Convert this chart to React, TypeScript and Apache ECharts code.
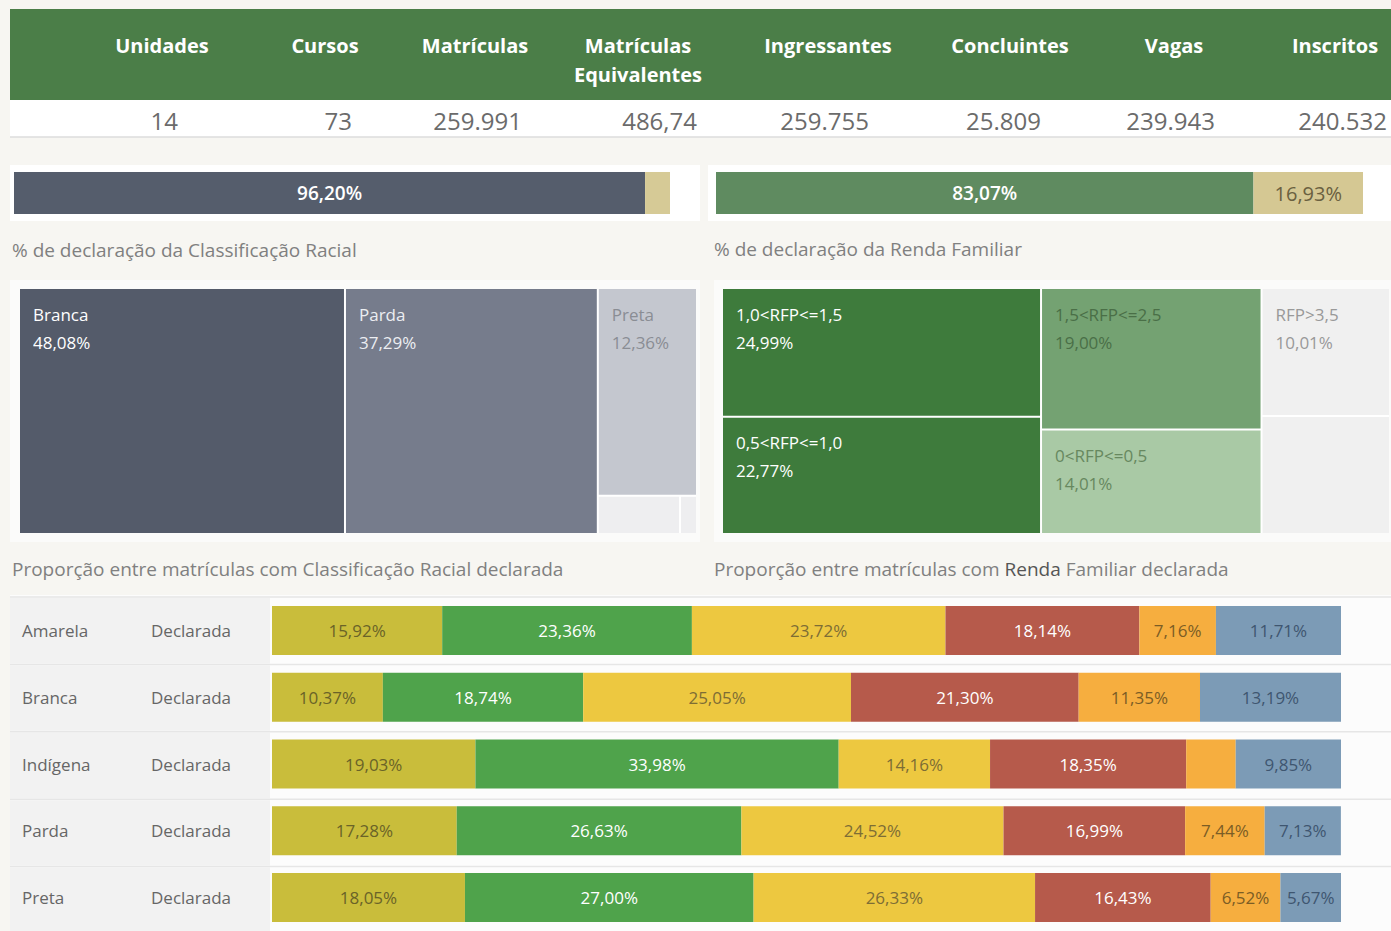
import React, { useEffect, useRef } from 'react';
import * as echarts from 'echarts';

// ---------- DATA ----------
const headerLabels = ['Unidades', 'Cursos', 'Matrículas', 'Matrículas\nEquivalentes', 'Ingressantes', 'Concluintes', 'Vagas', 'Inscritos'];
const headerValues = ['14', '73', '259.991', '486,74', '259.755', '25.809', '239.943', '240.532'];

const declCategories = ['Declarada', 'Não declarada'];
const racialDeclared = [96.2, 3.8];
const rendaDeclared = [83.07, 16.93];

const racialNames = ['Branca', 'Parda', 'Preta', 'Amarela', 'Indígena'];
const racialShares = [48.08, 37.29, 12.36, 1.88, 0.39];

const rendaNames = ['1,0<RFP<=1,5', '0,5<RFP<=1,0', '1,5<RFP<=2,5', '0<RFP<=0,5', 'RFP>3,5', '2,5<RFP<=3,5'];
const rendaShares = [24.99, 22.77, 19.0, 14.01, 10.01, 9.22];

const rowRaces = ['Amarela', 'Branca', 'Indígena', 'Parda', 'Preta'];
const rowStatus = 'Declarada';
const bandNames = ['0<RFP<=0,5', '0,5<RFP<=1,0', '1,0<RFP<=1,5', '1,5<RFP<=2,5', '2,5<RFP<=3,5', 'RFP>3,5'];
const band1 = [15.92, 10.37, 19.03, 17.28, 18.05];
const band2 = [23.36, 18.74, 33.98, 26.63, 27.0];
const band3 = [23.72, 25.05, 14.16, 24.52, 26.33];
const band4 = [18.14, 21.3, 18.35, 16.99, 16.43];
const band5 = [7.16, 11.35, 4.63, 7.44, 6.52];
const band6 = [11.71, 13.19, 9.85, 7.13, 5.67];
const bandValues = [band1, band2, band3, band4, band5, band6];

// ---------- STYLE ----------
const FONT = "'Open Sans', 'Noto Sans', sans-serif";
const bandColors = ['#c9bd3b', '#4fa34b', '#edc840', '#b65a4b', '#f6ae3f', '#7c9bb6'];
const bandLabelColors = ['#6a6328', '#ffffff', '#7d6d35', '#ffffff', '#7b5d25', '#3f5670'];
const racialColors = ['#545b6a', '#767c8c', '#c4c7cf', '#eeeef0', '#eeeef0'];
const racialLabelColors = ['#ffffff', '#eceef2', '#8a8d94', '#999', '#999'];
const rendaColors = ['#3e7b3c', '#3e7b3c', '#74a272', '#a9c9a5', '#f0f0f0', '#f0f0f0'];
const rendaLabelColors = ['#ffffff', '#ffffff', '#4a6f47', '#67885f', '#999999', '#999999'];

const fmt = (v: number) => v.toFixed(2).replace('.', ',') + '%';

const headerCenters = [162, 325, 475, 638, 828, 1010, 1174, 1335];
const valueRights = [178, 352, 522, 697, 869, 1041, 1215, 1387];

const bottomTop = 597;
const bottomHeight = 337;

export default function App() {
  const ref = useRef<HTMLDivElement>(null);
  useEffect(() => {
    if (!ref.current) return;
    const chart = echarts.init(ref.current, null, { renderer: 'svg' });

    const graphics: any[] = [];
    // header band
    graphics.push({ type: 'rect', shape: { x: 10, y: 9, width: 1381, height: 91 }, style: { fill: '#4b7e48' }, z: 0 });
    graphics.push({ type: 'rect', shape: { x: 10, y: 100, width: 1381, height: 37 }, style: { fill: '#ffffff' }, z: 0 });
    graphics.push({ type: 'line', shape: { x1: 10, y1: 137, x2: 1391, y2: 137 }, style: { stroke: '#dcdcdc', lineWidth: 1.5 }, z: 1 });
    headerLabels.forEach((t, i) => {
      graphics.push({
        type: 'text', x: headerCenters[i], y: 31, z: 2,
        style: { text: t, fill: '#ffffff', font: `bold 20px ${FONT}`, align: 'center', verticalAlign: 'top', lineHeight: 29 },
      });
      graphics.push({
        type: 'text', x: valueRights[i], y: 120, z: 2,
        style: { text: headerValues[i], fill: '#6b6b6b', font: `24px ${FONT}`, align: 'right', verticalAlign: 'middle' },
      });
    });
    // white panels behind top bars
    graphics.push({ type: 'rect', shape: { x: 10, y: 165, width: 690, height: 56 }, style: { fill: '#ffffff' }, z: 0 });
    graphics.push({ type: 'rect', shape: { x: 708, y: 165, width: 683, height: 56 }, style: { fill: '#ffffff' }, z: 0 });
    // subtitles
    const sub = (x: number, y: number, text: string) => ({
      type: 'text', x, y, z: 2,
      style: { text, fill: '#808080', font: `19px ${FONT}`, align: 'left', verticalAlign: 'middle' },
    });
    graphics.push(sub(12, 250, '% de declaração da Classificação Racial'));
    graphics.push(sub(714, 249, '% de declaração da Renda Familiar'));
    graphics.push(sub(12, 569, 'Proporção entre matrículas com Classificação Racial declarada'));
    graphics.push({
      type: 'text', x: 714, y: 569, z: 2,
      style: {
        text: '{n|Proporção entre matrículas com }{b|Renda}{n| Familiar declarada}',
        align: 'left', verticalAlign: 'middle',
        rich: {
          n: { fill: '#808080', font: `19px ${FONT}` },
          b: { fill: '#555555', font: `19px ${FONT}` },
        },
      },
    });
    // treemap panels
    graphics.push({ type: 'rect', shape: { x: 10, y: 280, width: 690, height: 262 }, style: { fill: '#fbfbfa' }, z: 0 });
    graphics.push({ type: 'rect', shape: { x: 714, y: 280, width: 677, height: 262 }, style: { fill: '#fbfbfa' }, z: 0 });
    // bottom rows
    const band = bottomHeight / rowRaces.length;
    graphics.push({ type: 'rect', shape: { x: 10, y: bottomTop - 2, width: 1381, height: 931 - bottomTop + 2 }, style: { fill: '#fcfcfc' }, z: 0 });
    rowRaces.forEach((_, i) => {
      const y0 = bottomTop + i * band;
      graphics.push({ type: 'rect', shape: { x: 10, y: y0 + 1, width: 260, height: band - 2 }, style: { fill: '#f2f2f2' }, z: 0 });
      graphics.push({ type: 'line', shape: { x1: 10, y1: y0, x2: 1391, y2: y0 }, style: { stroke: '#e6e6e6', lineWidth: 1.5 }, z: 0 });
    });

    const barLabel = (color: string) => ({
      show: true, position: 'inside', color, fontFamily: FONT, fontSize: 17,
      formatter: (p: any) => fmt(p.value),
    });

    const treemapSeries = (left: number, top: number, width: number, names: string[], values: number[], colors: string[], labelColors: string[], hideBelow: number) => ({
      type: 'treemap',
      left, top, width, height: 244,
      roam: false, nodeClick: false,
      breadcrumb: { show: false },
      squareRatio: 0.5 * (1 + Math.sqrt(5)),
      levels: [{ itemStyle: { borderWidth: 0, gapWidth: 2, borderColor: '#ffffff' } }],
      label: {
        show: true, position: 'insideTopLeft', fontFamily: FONT, fontSize: 17, lineHeight: 28,
        padding: [11, 0, 0, 13],
        formatter: (p: any) => p.name + '\n' + fmt(p.value),
      },
      emphasis: { disabled: true },
      data: names.map((n, i) => ({
        name: n, value: values[i],
        itemStyle: { color: colors[i] },
        label: { show: values[i] >= hideBelow, color: labelColors[i] },
      })),
    });

    const option: any = {
      animation: false,
      backgroundColor: 'transparent',
      grid: [
        { left: 14, top: 172, width: 656, height: 42 },
        { left: 716, top: 172, width: 647, height: 42 },
        { left: 272, top: bottomTop, width: 1069, height: bottomHeight },
      ],
      xAxis: [
        { type: 'value', gridIndex: 0, min: 0, max: 100, show: false },
        { type: 'value', gridIndex: 1, min: 0, max: 100, show: false },
        { type: 'value', gridIndex: 2, min: 0, max: 100, show: false },
      ],
      yAxis: [
        { type: 'category', gridIndex: 0, data: ['Classificação Racial'], show: false },
        { type: 'category', gridIndex: 1, data: ['Renda Familiar'], show: false },
        {
          type: 'category', gridIndex: 2, data: rowRaces, inverse: true,
          axisLine: { show: false }, axisTick: { show: false }, splitLine: { show: false },
          axisLabel: {
            align: 'left', margin: 250,
            formatter: (v: string) => `{a|${v}}{b|${rowStatus}}`,
            rich: {
              a: { width: 129, color: '#666666', fontFamily: FONT, fontSize: 17 },
              b: { color: '#666666', fontFamily: FONT, fontSize: 17 },
            },
          },
        },
      ],
      graphic: { elements: graphics },
      series: [
        {
          type: 'bar', name: declCategories[0], stack: 'r', xAxisIndex: 0, yAxisIndex: 0, barWidth: 42,
          data: [racialDeclared[0]], itemStyle: { color: '#555d6c' },
          label: { show: true, position: 'inside', color: '#ffffff', fontFamily: FONT, fontSize: 19, fontWeight: 600, formatter: (p: any) => fmt(p.value) },
        },
        {
          type: 'bar', name: declCategories[1], stack: 'r', xAxisIndex: 0, yAxisIndex: 0, barWidth: 42,
          data: [racialDeclared[1]], itemStyle: { color: '#d6ca96' }, label: { show: false },
        },
        {
          type: 'bar', name: declCategories[0], stack: 'f', xAxisIndex: 1, yAxisIndex: 1, barWidth: 42,
          data: [rendaDeclared[0]], itemStyle: { color: '#5f8b60' },
          label: { show: true, position: 'inside', color: '#ffffff', fontFamily: FONT, fontSize: 19, fontWeight: 600, formatter: (p: any) => fmt(p.value) },
        },
        {
          type: 'bar', name: declCategories[1], stack: 'f', xAxisIndex: 1, yAxisIndex: 1, barWidth: 42,
          data: [rendaDeclared[1]], itemStyle: { color: '#d5c893' },
          label: { show: true, position: 'inside', color: '#6a6040', fontFamily: FONT, fontSize: 20, formatter: (p: any) => fmt(p.value) },
        },
        ...bandValues.map((vals, k) => ({
          type: 'bar', name: bandNames[k], stack: 'b', xAxisIndex: 2, yAxisIndex: 2, barWidth: 49,
          itemStyle: { color: bandColors[k] },
          label: barLabel(bandLabelColors[k]),
          data: vals.map((v) => ({ value: v, label: { show: v >= 5 } })),
        })),
        treemapSeries(20, 289, 676, racialNames, racialShares, racialColors, racialLabelColors, 5),
        treemapSeries(723, 289, 666, rendaNames, rendaShares, rendaColors, rendaLabelColors, 9.5),
      ],
    };
    chart.setOption(option);
    return () => chart.dispose();
  }, []);
  return (
    <div style={{ position: 'absolute', left: 0, top: 0, width: 1391, height: 931, background: '#f7f6f2' }}>
      <div ref={ref} style={{ width: 1391, height: 931 }} />
    </div>
  );
}
